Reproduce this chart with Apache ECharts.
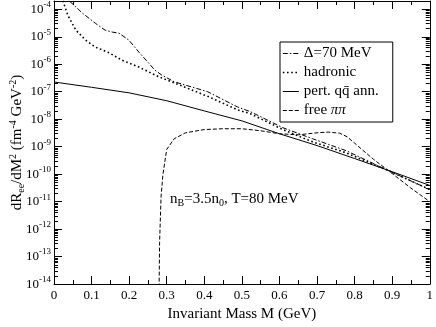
<!DOCTYPE html>
<html>
<head>
<meta charset="utf-8">
<script src="https://cdn.jsdelivr.net/npm/echarts@6/dist/echarts.min.js"></script>
<style>
html, body { margin: 0; padding: 0; background: #fff; }
#chart-container { width: 436px; height: 327px; }
</style>
</head>
<body>
<div id="chart-container"></div>
<script>
var dom = document.getElementById('chart-container');
var myChart = echarts.init(dom, null, { renderer: 'canvas' });

const FONT = 'Liberation Serif';

// Delta = 70 MeV (dash-dot)
const deltaM = [0, 0.042, 0.076, 0.110, 0.136, 0.155, 0.173, 0.199, 0.226, 0.252, 0.268, 0.286, 0.320, 0.409, 0.488, 0.522, 0.609, 0.688, 0.777, 0.890, 1.0];
const deltaRate = [6.3e-4, 1.95e-4, 7.2e-5, 3.1e-5, 1.74e-5, 1.48e-5, 1.35e-5, 7.6e-6, 2.75e-6, 1.1e-6, 6.2e-7, 4.1e-7, 2.3e-7, 1.0e-7, 2.8e-8, 1.9e-8, 4.9e-9, 1.95e-9, 7.2e-10, 1.35e-10, 2.75e-11];

// hadronic (dotted)
const hadM = [0, 0.024, 0.037, 0.058, 0.084, 0.110, 0.147, 0.181, 0.226, 0.268, 0.286, 0.320, 0.409, 0.488, 0.522, 0.609, 0.688, 0.777, 0.890, 1.0];
const hadRate = [1e-3, 1.95e-4, 6.0e-5, 1.74e-5, 7.6e-6, 4.2e-6, 2.6e-6, 1.4e-6, 7.9e-7, 4.1e-7, 3.2e-7, 2.1e-7, 6.8e-8, 2.2e-8, 1.6e-8, 4.2e-9, 1.5e-9, 6.0e-10, 1.35e-10, 2.75e-11];

// pert. qq ann. (solid)
const pertM = [0, 0.1, 0.2, 0.3, 0.4, 0.5, 0.6, 0.7, 0.8, 0.9, 1.0];
const pertRate = [2.26e-7, 1.45e-7, 9.1e-8, 4.7e-8, 2.0e-8, 8.7e-9, 2.95e-9, 1.1e-9, 3.7e-10, 1.23e-10, 3.9e-11];

// free pi pi (dashed)
const freeM = [0.279, 0.281, 0.285, 0.29, 0.3, 0.32, 0.35, 0.4, 0.45, 0.5, 0.55, 0.6, 0.65, 0.7, 0.73, 0.76, 0.78, 0.8, 0.82, 0.85, 0.89, 0.95, 1.0];
const freeRate = [1e-15, 3.2e-13, 1.6e-11, 1e-10, 8e-10, 1.95e-9, 3.2e-9, 4.2e-9, 4.5e-9, 4.5e-9, 3.8e-9, 2.95e-9, 2.7e-9, 3.2e-9, 3.4e-9, 3.1e-9, 2.3e-9, 1.35e-9, 7.8e-10, 3.5e-10, 1.35e-10, 3.1e-11, 1.0e-11];

const seriesNames = ['\u0394=70 MeV', 'hadronic', 'pert. qq\u0304 ann.', 'free \u03c0\u03c0'];

const yMin = 1e-14;
const yMax = 2e-4;
const majorExps = [-14, -13, -12, -11, -10, -9, -8, -7, -6, -5, -4];

const expMax = Math.log10(yMax);
const minorExps = [];
majorExps.forEach(function (n) {
    for (let k = 2; k <= 9; k++) {
        const v = n + Math.log10(k);
        if (v < expMax) minorExps.push(v);
    }
});

const lineStyles = [
    { color: '#000', width: 1, type: [5, 2, 1.5, 2] },
    { color: '#000', width: 1.6, type: [1.6, 2.6] },
    { color: '#000', width: 1, type: 'solid' },
    { color: '#000', width: 1, type: [4, 2] }
];

function zip(xs, ys) {
    return xs.map(function (x, i) { return [x, ys[i]]; });
}

// extra axes (exponent space) just for drawing log ticks
function tickAxis(pos, values, len, withLabels) {
    return {
        type: 'value',
        position: pos,
        min: -14,
        max: expMax,
        axisLine: { show: false, onZero: false },
        splitLine: { show: false },
        axisTick: {
            show: true,
            inside: true,
            length: len,
            customValues: values,
            lineStyle: { color: '#000', width: 1 }
        },
        axisLabel: withLabels ? {
            show: true,
            customValues: majorExps,
            margin: 3,
            color: '#000',
            formatter: function (v) {
                return '{b|10}{s|' + Math.round(v) + '}';
            },
            rich: {
                b: { fontSize: 13, fontFamily: FONT, color: '#000' },
                s: { fontSize: 9, fontFamily: FONT, color: '#000', padding: [0, 0, 9, 0] }
            }
        } : { show: false }
    };
}

function xAxisCfg(pos, labels) {
    return {
        type: 'value',
        position: pos,
        min: 0,
        max: 1,
        interval: 0.1,
        axisLine: { show: true, onZero: false, lineStyle: { color: '#000', width: 1 } },
        axisTick: { show: true, inside: true, length: 8, lineStyle: { color: '#000' } },
        minorTick: { show: true, splitNumber: 2, length: 4, lineStyle: { color: '#000' } },
        splitLine: { show: false },
        axisLabel: labels ? { show: true, color: '#000', fontSize: 13, fontFamily: FONT, margin: 5 } : { show: false },
        name: labels ? 'Invariant Mass M (GeV)' : '',
        nameLocation: 'middle',
        nameGap: 18,
        nameTextStyle: { fontSize: 15, fontFamily: FONT, color: '#000' }
    };
}

option = {
    backgroundColor: '#fff',
    animation: false,
    grid: { left: 51, right: 4, top: 1, bottom: 42 },
    legend: {
        orient: 'vertical',
        left: 280,
        top: 42,
        data: seriesNames.map(function (n, i) {
            return { name: n, lineStyle: lineStyles[i] };
        }),
        padding: [4, 14, 4, 2],
        itemGap: 4,
        itemWidth: 16,
        itemHeight: 14,
        borderColor: '#000',
        borderWidth: 1,
        borderRadius: 0,
        backgroundColor: '#fff',
        itemStyle: { opacity: 0 },
        textStyle: {
            fontSize: 15,
            fontFamily: FONT,
            color: '#000',
            rich: { i: { fontStyle: 'italic', fontSize: 15, fontFamily: FONT } }
        },
        formatter: function (name) {
            if (name === seriesNames[3]) return 'free {i|\u03c0\u03c0}';
            return name;
        }
    },
    xAxis: [xAxisCfg('bottom', true), xAxisCfg('top', false)],
    yAxis: [
        {
            type: 'log',
            logBase: 10,
            min: yMin,
            max: yMax,
            position: 'left',
            axisLine: { show: true, onZero: false, lineStyle: { color: '#000', width: 1 } },
            axisTick: { show: false },
            axisLabel: { show: false },
            splitLine: { show: false },
            name: '{m|dR}{sub|ee}{m|/dM}{sup|2}{m| (fm}{sup|-4}{m| GeV}{sup|-2}{m|)}',
            nameLocation: 'middle',
            nameGap: 27,
            nameRotate: 90,
            nameTextStyle: {
                color: '#000',
                rich: {
                    m: { fontSize: 15, fontFamily: FONT, color: '#000' },
                    sub: { fontSize: 10, fontFamily: FONT, color: '#000', padding: [8, 0, 0, 0] },
                    sup: { fontSize: 10, fontFamily: FONT, color: '#000', padding: [0, 0, 9, 0] }
                }
            }
        },
        tickAxis('left', majorExps, 8, true),
        tickAxis('left', minorExps, 4, false),
        {
            type: 'log',
            logBase: 10,
            min: yMin,
            max: yMax,
            position: 'right',
            axisLine: { show: true, onZero: false, lineStyle: { color: '#000', width: 1 } },
            axisTick: { show: false },
            axisLabel: { show: false },
            splitLine: { show: false }
        },
        tickAxis('right', majorExps, 8, false),
        tickAxis('right', minorExps, 4, false)
    ],
    graphic: [
        {
            type: 'text',
            left: 170,
            top: 192,
            style: {
                text: '{n|n}{sb|B}{n|=3.5n}{sb|0}{n|, T=80 MeV}',
                rich: {
                    n: { fontSize: 15, fontFamily: FONT, fill: '#000' },
                    sb: { fontSize: 10, fontFamily: FONT, fill: '#000', padding: [8, 0, 0, 0] }
                }
            }
        }
    ],
    series: [
        {
            name: seriesNames[0],
            type: 'line',
            symbol: 'none',
            clip: true,
            data: zip(deltaM, deltaRate),
            lineStyle: lineStyles[0],
            itemStyle: { color: '#000' }
        },
        {
            name: seriesNames[1],
            type: 'line',
            symbol: 'none',
            clip: true,
            data: zip(hadM, hadRate),
            lineStyle: lineStyles[1],
            itemStyle: { color: '#000' }
        },
        {
            name: seriesNames[2],
            type: 'line',
            symbol: 'none',
            clip: true,
            data: zip(pertM, pertRate),
            lineStyle: lineStyles[2],
            itemStyle: { color: '#000' }
        },
        {
            name: seriesNames[3],
            type: 'line',
            symbol: 'none',
            clip: true,
            data: zip(freeM, freeRate),
            lineStyle: lineStyles[3],
            itemStyle: { color: '#000' }
        }
    ]
};

if (option && typeof option === 'object') {
    myChart.setOption(option);
}

window.addEventListener('resize', myChart.resize);
</script>
</body>
</html>
